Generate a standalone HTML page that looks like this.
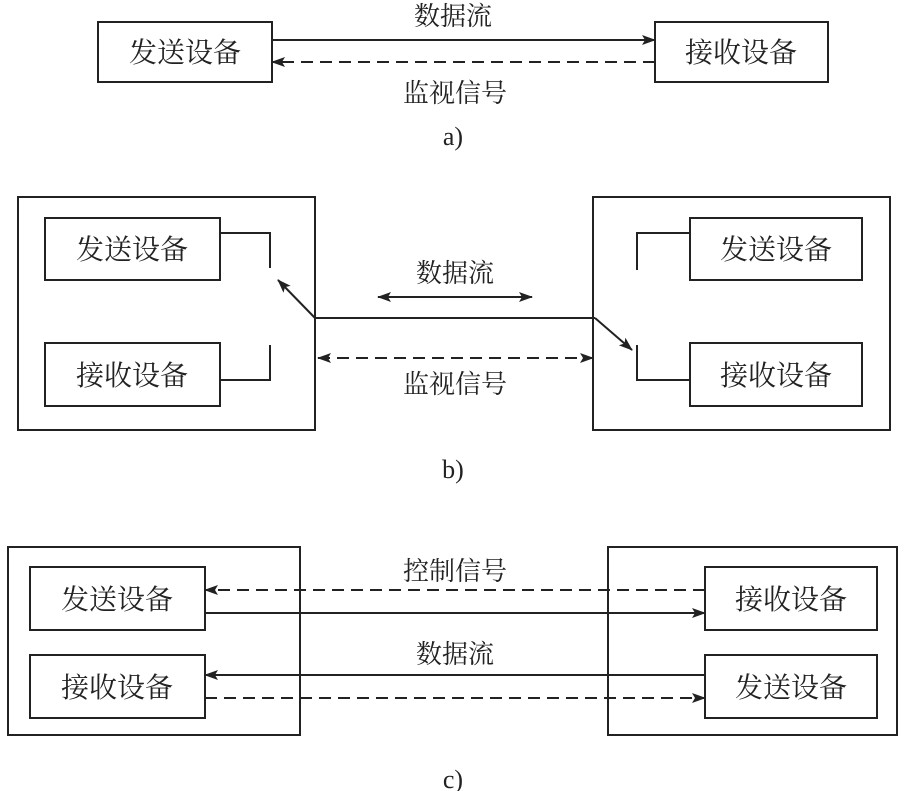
<!DOCTYPE html>
<html><head><meta charset="utf-8"><style>
html,body{margin:0;padding:0;background:#fff;}
svg{display:block;}
text{font-family:"Liberation Serif","Noto Serif CJK SC","Noto Sans CJK SC",serif;fill:#222;}
</style></head><body>
<svg width="907" height="791" viewBox="0 0 907 791" xmlns="http://www.w3.org/2000/svg">
<defs>
<marker id="ar" markerWidth="14" markerHeight="10" refX="13" refY="5" orient="auto" markerUnits="userSpaceOnUse">
<path d="M0,0 L14,5 L0,10 L3,5 Z" fill="#222"/></marker>
<marker id="al" markerWidth="14" markerHeight="10" refX="1" refY="5" orient="auto" markerUnits="userSpaceOnUse">
<path d="M14,0 L0,5 L14,10 L11,5 Z" fill="#222"/></marker>
</defs>
<g stroke="#222" stroke-width="2" fill="none">
<!-- a -->
<rect x="98" y="22" width="174" height="60"/>
<rect x="655" y="22" width="173" height="60"/>
<line x1="272" y1="40" x2="655" y2="40" marker-end="url(#ar)"/>
<line x1="655" y1="62" x2="272" y2="62" stroke-dasharray="12,7" marker-end="url(#ar)"/>
<!-- b -->
<rect x="18" y="197" width="297" height="233"/>
<rect x="593" y="197" width="297" height="233"/>
<rect x="45" y="218" width="175" height="62"/>
<rect x="45" y="343" width="175" height="63"/>
<rect x="690" y="218" width="172" height="62"/>
<rect x="690" y="343" width="172" height="63"/>
<polyline points="220,233 270,233 270,268"/>
<polyline points="270,345 270,380 220,380"/>
<polyline points="690,233 637,233 637,270"/>
<polyline points="637,345 637,380 690,380"/>
<line x1="315" y1="318" x2="595" y2="318"/>
<line x1="315" y1="318" x2="278" y2="280" marker-end="url(#ar)"/>
<line x1="595" y1="318" x2="632" y2="350" marker-end="url(#ar)"/>
<line x1="378" y1="297" x2="532" y2="297" marker-start="url(#al)" marker-end="url(#ar)"/>
<line x1="318" y1="358" x2="593" y2="358" stroke-dasharray="12,7" marker-start="url(#al)" marker-end="url(#ar)"/>
<!-- c -->
<rect x="8" y="547" width="292" height="188"/>
<rect x="608" y="547" width="289" height="188"/>
<rect x="30" y="567" width="175" height="63"/>
<rect x="30" y="655" width="175" height="63"/>
<rect x="705" y="567" width="172" height="63"/>
<rect x="705" y="655" width="172" height="63"/>
<line x1="705" y1="590" x2="205" y2="590" stroke-dasharray="12,7" marker-end="url(#ar)"/>
<line x1="205" y1="613" x2="705" y2="613" marker-end="url(#ar)"/>
<line x1="705" y1="675" x2="205" y2="675" marker-end="url(#ar)"/>
<line x1="205" y1="698" x2="705" y2="698" stroke-dasharray="12,7" marker-end="url(#ar)"/>
</g>
<g font-size="28" text-anchor="middle">
<text x="185" y="62">发送设备</text>
<text x="741" y="62">接收设备</text>
<text x="132" y="259">发送设备</text>
<text x="132" y="385">接收设备</text>
<text x="776" y="259">发送设备</text>
<text x="776" y="385">接收设备</text>
<text x="117" y="609">发送设备</text>
<text x="117" y="697">接收设备</text>
<text x="791" y="609">接收设备</text>
<text x="791" y="697">发送设备</text>
</g>
<g font-size="26" text-anchor="middle">
<text x="453" y="25">数据流</text>
<text x="455" y="102">监视信号</text>
<text x="453" y="145">a)</text>
<text x="455" y="282">数据流</text>
<text x="455" y="393">监视信号</text>
<text x="453" y="478">b)</text>
<text x="455" y="580">控制信号</text>
<text x="455" y="663">数据流</text>
<text x="453" y="788">c)</text>
</g>
</svg>
</body></html>
